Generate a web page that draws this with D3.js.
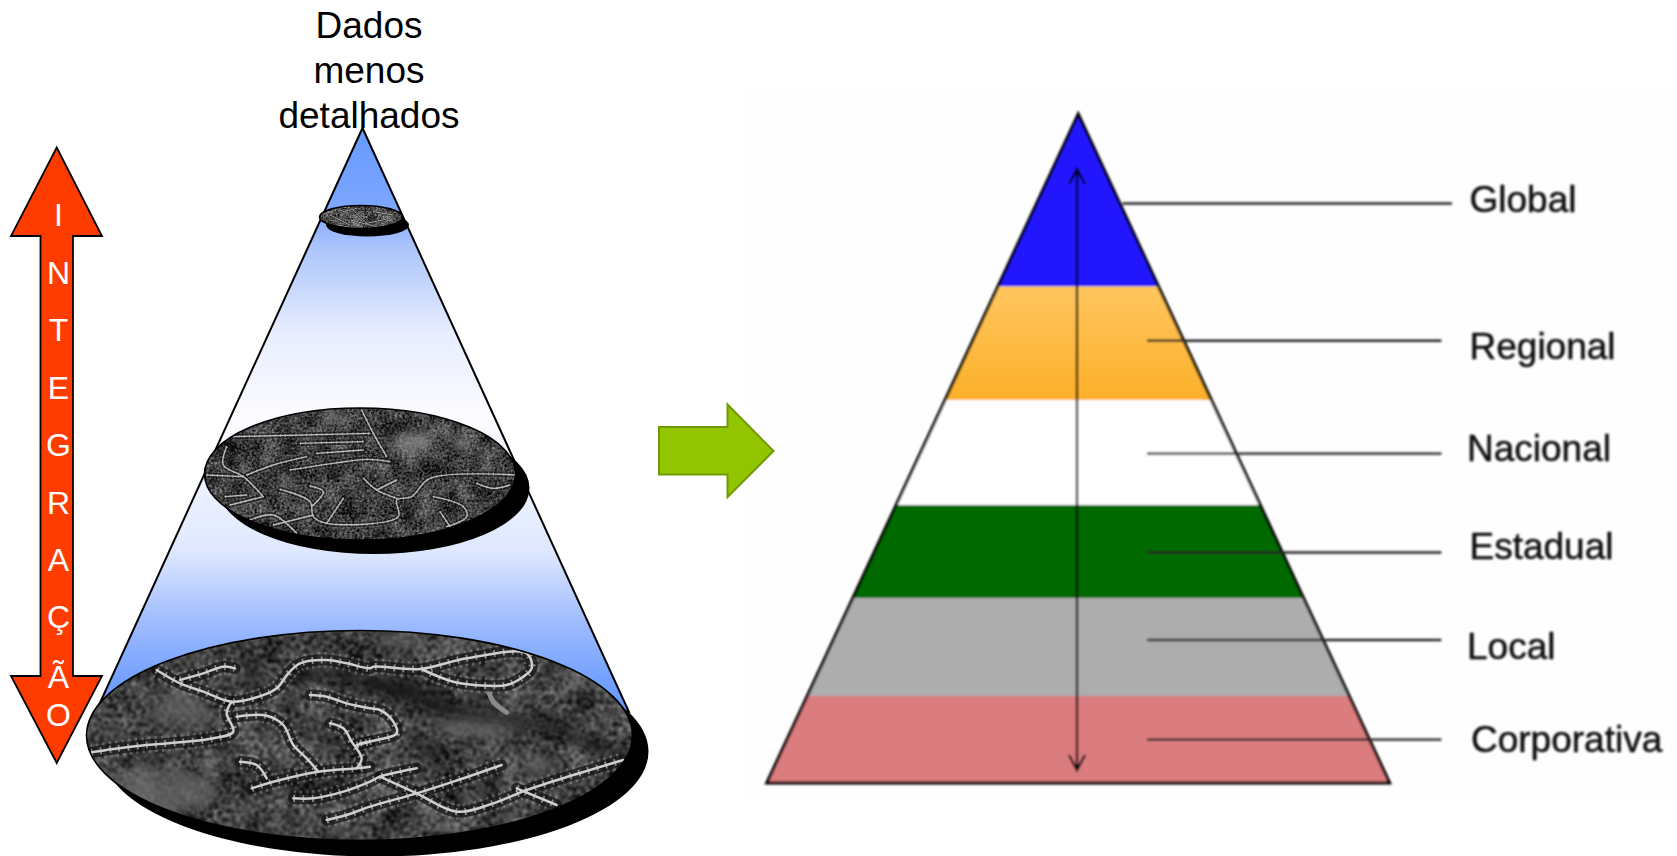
<!DOCTYPE html>
<html><head><meta charset="utf-8">
<script src="https://cdn.jsdelivr.net/npm/d3@7"></script>
<style>html,body{margin:0;padding:0;background:#fff;overflow:hidden}svg{display:block}text{font-family:"Liberation Sans",Arial,sans-serif}</style>
</head><body><svg id="c" width="1677" height="856" viewBox="0 0 1677 856"></svg>
<script>
// ---------- content ----------
const headingLines = ["Dados","menos","detalhados"];
const headingBaselines = [38,83,128];
const integrationLetters = ["I","N","T","E","G","R","A","Ç","Ã","O"];
const integrationBaselines = [226,284,341,399,456,514,571,628,688,725.5];
const levelNames = ["Global","Regional","Nacional","Estadual","Local","Corporativa"];
const levelHeights = [172.4,113.6,105,93,98,87];
const levelFills = ["#2218ff","url(#orange)","#ffffff","#056905","#adadad","#db7c7e"];
const leaderRows = [203.5,340.7,453.6,552.5,640,739.6];
const labelRows = [211.7,358.5,461,559,659,752];
const labelStarts = [1469.5,1469.5,1467,1469.5,1467,1471];
const coneStops = [[0,"#6699ff"],[.14,"#7ea7ff"],[.2,"#a9c3fb"],[.35,"#e8eeff"],[.49,"#fcfcff"],[.72,"#dfe8ff"],[.85,"#9bb9ff"],[.95,"#6f9fff"],[1,"#6699ff"]];

// road traces of the aerial photo, in each disc's own crop coordinates
const bigRoads = [
 [[230,135],[300,175],[370,200],[455,230],[545,212],[590,190],[625,145],[660,115],[740,105],[800,115],[870,130],[880,125],[1020,132],[1160,100],[1340,85],[1355,130],[1330,155],[1280,180],[1220,182],[1120,170],[1030,135]],
 [[300,165],[370,145],[430,125],[465,130]],
 [[455,230],[440,265],[460,320],[400,340],[300,352],[200,360],[100,372],[35,382]],
 [[470,275],[560,272],[610,300],[640,360],[680,400],[715,440]],
 [[515,490],[580,470],[715,440],[830,430],[870,425]],
 [[480,410],[530,420],[560,460]],
 [[690,210],[740,215],[800,235],[870,250],[900,255],[940,290],[950,325],[890,345],[840,355]],
 [[750,295],[790,310],[815,350],[845,400],[830,430]],
 [[830,360],[870,350]],
 [[640,520],[700,520],[790,500],[870,470],[900,455],[960,440],[1010,430]],
 [[740,585],[800,570],[870,545],[1010,505],[1120,470],[1265,420]],
 [[900,455],[1010,505],[1130,560],[1240,535],[1340,495],[1480,450],[1630,405]],
 [[1310,490],[1430,540]]
];
const bigDirtRoads = [[[1220,182],[1240,230],[1280,262]],[[590,190],[625,145]]];
const bigDarkBands = [
 [[840,165],[1090,250],[1290,280],[1480,330],[1590,390]],
 [[640,140],[900,170],[1100,210]],
 [[1000,340],[1090,400]],
 [[490,100],[530,140],[500,180]]
];
const bigLightPatches = [[230,500,190,70],[1380,420,55,30],[1200,300,140,40],[950,40,90,18],[300,260,90,45]];
const midRoads = [
 [[100,110],[510,100]],
 [[485,30],[520,100],[560,170]],
 [[300,130],[490,125]],
 [[350,160],[490,150]],
 [[270,210],[400,190],[500,178],[570,185]],
 [[140,225],[220,195],[320,170]],
 [[80,140],[70,195],[130,230],[190,290]],
 [[20,225],[130,230]],
 [[75,290],[140,285]],
 [[90,315],[190,290]],
 [[240,268],[330,305],[340,350],[380,370],[595,350],[590,300],[635,290],[690,235],[945,225]],
 [[330,258],[370,275],[335,320]],
 [[430,295],[400,340],[380,370]],
 [[490,235],[530,270],[590,295]],
 [[530,270],[590,240]],
 [[150,360],[220,345],[290,400]],
 [[220,375],[340,345]],
 [[700,290],[790,320],[800,350],[740,380]],
 [[720,335],[750,380]],
 [[830,250],[880,265],[930,255]]
];
const midLightPatches = [[400,50,30,20],[640,125,60,30],[790,135,30,22]];
const smallRoads = [[[60,60],[120,90]],[[130,45],[170,85]],[[170,85],[240,70]],[[80,90],[140,100]],[[190,50],[250,60]],[[140,80],[200,95]],[[100,50],[140,40]]];

// ---------- drawing ----------
const svg = d3.select("#c");
const defs = svg.append("defs");
const grad = (id,y1,y2,stops)=>{const g=defs.append("linearGradient").attr("id",id).attr("gradientUnits","userSpaceOnUse").attr("x1",0).attr("x2",0).attr("y1",y1).attr("y2",y2);
 stops.forEach(s=>g.append("stop").attr("offset",s[0]).attr("stop-color",s[1]));};
grad("cone",128,715,coneStops);
grad("orange",286,400,[[0,"#ffc65f"],[1,"#fdb02a"]]);
const blurF=(id,sd)=>defs.append("filter").attr("id",id).attr("x","-20%").attr("y","-20%").attr("width","140%").attr("height","140%").append("feGaussianBlur").attr("stdDeviation",sd);
blurF("soft",.8); blurF("b1",.5); blurF("b5",6);
function noise(id,f1,f2,k,o,seed,sd){
 const f=defs.append("filter").attr("id",id).attr("x",0).attr("y",0).attr("width","100%").attr("height","100%").attr("color-interpolation-filters","sRGB");
 f.append("feTurbulence").attr("type","fractalNoise").attr("baseFrequency",f1).attr("numOctaves",2).attr("seed",seed).attr("result","a");
 f.append("feTurbulence").attr("type","fractalNoise").attr("baseFrequency",f2).attr("numOctaves",2).attr("seed",seed+3).attr("result","b");
 f.append("feComposite").attr("in","a").attr("in2","b").attr("operator","arithmetic").attr("k1",0).attr("k2",.4).attr("k3",.6).attr("k4",0);
 f.append("feColorMatrix").attr("type","matrix").attr("values",`${k} 0 0 0 ${o} ${k} 0 0 0 ${o} ${k} 0 0 0 ${o} 0 0 0 0 1`);
 f.append("feGaussianBlur").attr("stdDeviation",sd);
}
noise("gBig",.03,.22,1.15,-.32,4,.9);
noise("gMid",.05,.4,1.15,-.33,9,.6);
noise("gSmall",.08,.6,1.4,-.38,2,.4);

// cone
const coneLine=d3.line();
svg.append("path").attr("d",coneLine([[362.5,128],[99,705],[629,712]])+"Z").attr("fill","url(#cone)").attr("stroke","#000").attr("stroke-width",2).attr("stroke-linejoin","miter");

function disc(id,cx,cy,rx,ry,dx,dy,noiseId,draw){
 svg.append("ellipse").attr("cx",cx+dx).attr("cy",cy+dy).attr("rx",rx).attr("ry",ry).attr("fill","#000");
 defs.append("clipPath").attr("id",id).append("ellipse").attr("cx",cx).attr("cy",cy).attr("rx",rx).attr("ry",ry);
 const g=svg.append("g").attr("clip-path",`url(#${id})`);
 g.append("rect").attr("x",cx-rx).attr("y",cy-ry).attr("width",2*rx).attr("height",2*ry).attr("filter",`url(#${noiseId})`);
 draw(g);
 svg.append("ellipse").attr("cx",cx).attr("cy",cy).attr("rx",rx).attr("ry",ry).attr("fill","none").attr("stroke","#000").attr("stroke-width",1.6);
}
function roads(g,list,line,w,tick,col){
 const r=g.append("g").attr("fill","none").attr("stroke-linecap","round").attr("stroke-linejoin","round").attr("filter","url(#b1)");
 r.selectAll("path.house").data(list).join("path").attr("d",line).attr("stroke","#a0a0a0").attr("stroke-opacity",.42).attr("stroke-width",tick*2.3).attr("stroke-dasharray",`${w} ${w*1.6}`).attr("stroke-linecap","butt");
 r.selectAll("path.dark").data(list).join("path").attr("d",line).attr("stroke","#141414").attr("stroke-opacity",.72).attr("stroke-width",tick*1.6);
 r.selectAll("path.tick").data(list).join("path").attr("d",line).attr("stroke",col).attr("stroke-opacity",.6).attr("stroke-width",tick).attr("stroke-dasharray",`${w*.7} ${w*3}`).attr("stroke-linecap","butt");
 r.selectAll("path.road").data(list).join("path").attr("d",line).attr("stroke",col).attr("stroke-width",w);
}
function patches(g,list,x,y,col,op){
 g.append("g").attr("filter","url(#b5)").selectAll("ellipse").data(list).join("ellipse")
  .attr("cx",d=>x(d[0])).attr("cy",d=>y(d[1])).attr("rx",d=>x(d[2])-x(0)).attr("ry",d=>y(d[3])-y(0)).attr("fill",col).attr("fill-opacity",op);
}
// big disc
disc("dBig",359.5,735.5,273,105,16,16,"gBig",g=>{
 const x=d3.scaleLinear().domain([0,1740]).range([80,660]), y=d3.scaleLinear().domain([0,675]).range([625,850]);
 const ln=d3.line().x(d=>x(d[0])).y(d=>y(d[1])).curve(d3.curveCatmullRom.alpha(.5));
 patches(g,bigLightPatches,x,y,"#666666",.7);
 g.append("g").attr("filter","url(#b5)").attr("fill","none").selectAll("path").data(bigDarkBands).join("path").attr("d",ln).attr("stroke","#0e0e0e").attr("stroke-opacity",.75).attr("stroke-width",12);
 g.append("g").attr("fill","none").selectAll("path").data(bigDirtRoads).join("path").attr("d",ln).attr("stroke","#8a8a8a").attr("stroke-width",5).attr("stroke-linecap","round");
 roads(g,bigRoads,ln,2.5,7,"#cfcfcf");
});
// middle disc
disc("dMid",360,474,155.5,66,14,14,"gMid",g=>{
 const x=d3.scaleLinear().domain([0,1005]).range([200,535]), y=d3.scaleLinear().domain([0,480]).range([400,560]);
 const ln=d3.line().x(d=>x(d[0])).y(d=>y(d[1])).curve(d3.curveCatmullRom.alpha(.5));
 patches(g,midLightPatches,x,y,"#8f8f8f",.8);
 roads(g,midRoads,ln,1.4,3.2,"#bcbcbc");
});
// small disc
disc("dSmall",361,217,41.5,11.5,6.5,8,"gSmall",g=>{
 const x=d3.scaleLinear().domain([0,110*3]).range([310,420]), y=d3.scaleLinear().domain([0,150]).range([195,245]);
 const ln=d3.line().x(d=>x(d[0])).y(d=>y(d[1]));
 roads(g,smallRoads,ln,.8,1.4,"#b8b8b8");
});

// heading
svg.append("g").attr("font-size",37).attr("fill","#000").attr("text-anchor","middle").selectAll("text").data(headingLines).join("text")
 .attr("x",369).attr("y",(d,i)=>headingBaselines[i]).text(d=>d);

// red double arrow
const redArrow=[[56.7,147.5],[102,236],[73,236],[73,676],[102,676],[56.7,763],[11,676],[40.5,676],[40.5,236],[11,236]];
svg.append("path").attr("d",d3.line()(redArrow)+"Z").attr("fill","#ff3c00").attr("stroke","#000").attr("stroke-width",1.8);
svg.append("g").attr("font-size",32).attr("fill","#fff").attr("text-anchor","middle").selectAll("text").data(integrationLetters).join("text")
 .attr("x",58.5).attr("y",(d,i)=>integrationBaselines[i]).text(d=>d);

// pyramid panel
svg.append("rect").attr("x",745).attr("y",90).attr("width",932).attr("height",712).attr("fill","#fefefe");

// green arrow
const greenArrow=[[659,427],[727.5,427],[727.5,404.5],[773.5,451],[727.5,497],[727.5,474.5],[659,474.5]];
svg.append("path").attr("d",d3.line()(greenArrow)+"Z").attr("fill","#92c500").attr("stroke","#6f9a00").attr("stroke-width",2);

const P=svg.append("g").attr("filter","url(#soft)");
const total=d3.sum(levelHeights);
const py=d3.scaleLinear().domain([0,total]).range([114,783]);
const halfW=d3.scaleLinear().domain([0,total]).range([0,311.5]);
const mid=1078.2;
const cum=[0,...d3.cumsum(levelHeights)];
P.selectAll("path.band").data(levelNames).join("path").attr("class","band")
 .attr("d",(d,i)=>d3.line()([[mid-halfW(cum[i]),py(cum[i])],[mid+halfW(cum[i]),py(cum[i])],[mid+halfW(cum[i+1]),py(cum[i+1])],[mid-halfW(cum[i+1]),py(cum[i+1])]])+"Z")
 .attr("fill",(d,i)=>levelFills[i]);
P.append("path").attr("d",d3.line()([[mid,py(0)],[mid+halfW(total),py(total)],[mid-halfW(total),py(total)]])+"Z").attr("fill","none").attr("stroke","#000").attr("stroke-width",3).attr("stroke-linejoin","miter");
// leaders
P.selectAll("line.leader").data(levelNames).join("line").attr("class","leader")
 .attr("x1",(d,i)=>i===0?1122.4:1147).attr("x2",(d,i)=>i===0?1452:1441.4)
 .attr("y1",(d,i)=>leaderRows[i]).attr("y2",(d,i)=>leaderRows[i]).attr("stroke","#262626").attr("stroke-width",2.4);
// double-headed vertical arrow
const ax=1077;
P.append("path").attr("fill","none").attr("stroke","#000").attr("stroke-width",2.3)
 .attr("d",d3.line()([[ax,170],[ax,769]])+d3.line()([[ax-8,184],[ax,169],[ax+8,184]])+d3.line()([[ax-8,755],[ax,770],[ax+8,755]]));
// labels
P.selectAll("text.label").data(levelNames).join("text").attr("class","label")
 .attr("x",(d,i)=>labelStarts[i]).attr("y",(d,i)=>labelRows[i]).attr("font-size",37).attr("fill","#111").attr("stroke","#111").attr("stroke-width",.5).text(d=>d);
</script></body></html>
